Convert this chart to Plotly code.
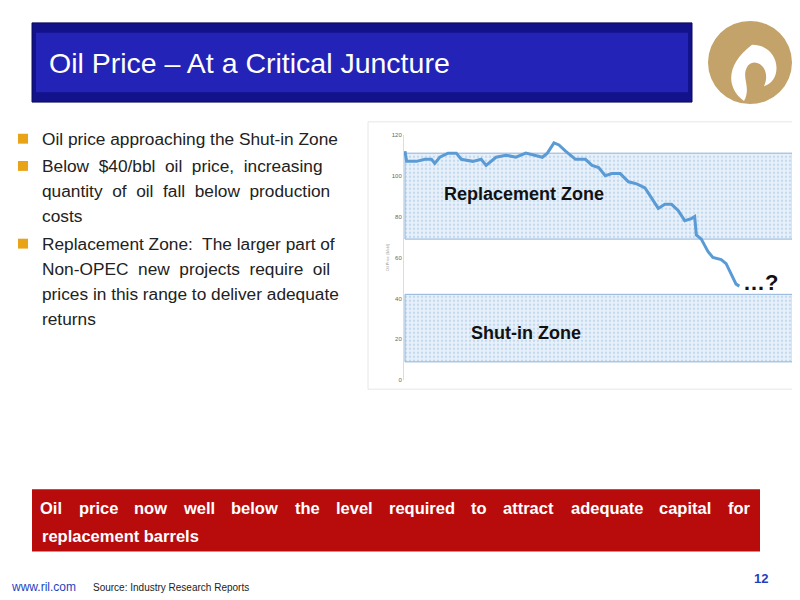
import plotly.graph_objects as go

# oil price series (time index, $/bbl)
t_idx = [0, 0.5, 3.5, 6, 8, 9, 10.5, 13, 15.5, 17, 20.5, 23, 24.5, 27.5, 30.5, 33.5, 36.5,
         39.5, 41.5, 43, 45, 46.5, 48.5, 51.5, 54.5, 56.5, 58.5, 60.5, 62.5, 65, 67.5, 70,
         72.5, 74.5, 76.5, 78.5, 80.5, 82.5, 84.5, 86.5, 87.5, 88, 89.5, 91.5, 93, 95.5, 97,
         98.5, 100, 101]
price = [112, 107, 107, 108, 108, 106, 109, 111, 111, 108, 107, 108, 105, 109, 110, 109, 111,
         110, 109, 111, 116, 115, 112, 108, 108, 105, 104, 100, 101, 101, 97, 96, 94, 89, 84,
         86, 86, 83, 78, 79, 80, 71, 69, 63, 60, 59, 57, 52, 47, 46]
zone_names = ["Replacement Zone", "Shut-in Zone"]
zone_low = [69, 9]
zone_high = [111, 42]
y_ticks = [0, 20, 40, 60, 80, 100, 120]
bullets = [
    ["Oil price approaching the Shut-in Zone"],
    ["Below  $40/bbl  oil  price,  increasing", "quantity  of  oil  fall  below  production", "costs"],
    ["Replacement Zone:  The larger part of", "Non-OPEC  new  projects  require  oil", "prices in this range to deliver adequate", "returns"],
]
banner_words = ["Oil", "price", "now", "well", "below", "the", "level", "required", "to",
                "attract", "adequate", "capital", "for"]

# rough bold Arial glyph widths (em) for justifying the banner line
GLYPH_EM = {'i': .278, 'l': .278, 't': .333, 'f': .333, 'r': .389, 'w': .778, 'm': .889,
            'O': .778, 'a': .556, 'c': .556, 'e': .556, 's': .556, 'v': .556}

# the page body has an 8px margin, so shift everything up-left by that
OFF = 8


def px(x):
    return (x - OFF) / 800


def py(y):
    return 1 - (y - OFF) / 600


def word_w(w, size):
    return sum(GLYPH_EM.get(c, .611) for c in w) * size


fig = go.Figure()
for name, lo, hi in zip(zone_names, zone_low, zone_high):
    fig.add_trace(go.Scatter(x=[0, 117, 117, 0, 0], y=[lo, lo, hi, hi, lo], mode='lines',
                             fill='toself', fillcolor='rgba(225,238,250,1)',
                             fillpattern=dict(shape='.', fgcolor='#9dbfe0', bgcolor='#e8f1fb', size=4, solidity=0.3),
                             line=dict(color='#8fb3d9', width=1), showlegend=False, hoverinfo='skip'))
fig.add_trace(go.Scatter(x=t_idx, y=price, mode='lines', line=dict(color='#5b9bd5', width=3),
                         showlegend=False))

fig.update_layout(
    width=800, height=600, margin=dict(l=0, r=0, t=0, b=0),
    paper_bgcolor='white', plot_bgcolor='rgba(0,0,0,0)',
    font=dict(family='Liberation Sans, Arial', color='#222'),
    xaxis=dict(domain=[px(404), px(793)], range=[-0.3, 117.2], showticklabels=False, showgrid=False,
               zeroline=False, showline=False),
    yaxis=dict(domain=[py(381), py(133)], range=[0, 120], tickvals=y_ticks, showgrid=False,
               zeroline=False, showline=True, linecolor='#ddd', linewidth=1,
               tickfont=dict(size=6, color='#666'), ticks='',
               title=dict(text='Oil Price ($/bbl)', font=dict(size=4, color='#999'), standoff=2)),
)

shapes = [
    # chart frame
    dict(type='rect', xref='paper', yref='paper', x0=px(368), x1=px(797), y0=py(390), y1=py(120),
         line=dict(color='#e6e6e6', width=1), fillcolor='white', layer='below'),
    # title banner
    dict(type='rect', xref='paper', yref='paper', x0=px(32), x1=px(692), y0=py(100), y1=py(20),
         line=dict(color='#0a0a5a', width=1), fillcolor='#12128a', layer='below'),
    dict(type='rect', xref='paper', yref='paper', x0=px(36), x1=px(688), y0=py(90), y1=py(30),
         line=dict(width=0), fillcolor='#2323b8', layer='below'),
    # logo
    dict(type='circle', xref='paper', yref='paper', x0=px(708), x1=px(792), y0=py(102), y1=py(18),
         line=dict(width=0), fillcolor='#c4a36a'),
    dict(type='path', xref='paper', yref='paper',
         path=f'M {px(744)} {py(99)} C {px(724)} {py(84)} {px(728)} {py(60)} {px(752)} {py(42)} '
              f'C {px(780)} {py(42)} {px(784)} {py(78)} {px(764)} {py(84)} '
              f'C {px(772)} {py(66)} {px(756)} {py(54)} {px(748)} {py(63)} '
              f'C {px(740)} {py(75)} {px(752)} {py(84)} {px(744)} {py(99)} Z',
         line=dict(width=0), fillcolor='white'),
    # bottom red box
    dict(type='rect', xref='paper', yref='paper', x0=px(32), x1=px(760), y0=py(554), y1=py(491),
         line=dict(width=0), fillcolor='#b80c0c', layer='below'),
]

ann = [
    dict(x=px(47), y=py(61), text='Oil Price – At a Critical Juncture', showarrow=False,
         xanchor='left', yanchor='middle', font=dict(size=28.5, color='white', family='Liberation Sans')),
    dict(x=11.2, y=91, xref='x', yref='y', text='<b>Replacement Zone</b>', showarrow=False,
         xanchor='left', font=dict(size=18, color='#111')),
    dict(x=19.3, y=23, xref='x', yref='y', text='<b>Shut-in Zone</b>', showarrow=False,
         xanchor='left', font=dict(size=18, color='#111')),
    dict(x=101.5, y=48, xref='x', yref='y', text='<b>…?</b>', showarrow=False,
         xanchor='left', font=dict(size=22, color='#111')),
    dict(x=px(40), y=py(538), text='<b>replacement barrels</b>', showarrow=False, xanchor='left',
         yanchor='middle', font=dict(size=16.5, color='white')),
    dict(x=px(9), y=py(590), text='www.ril.com', showarrow=False, xanchor='left', yanchor='middle',
         font=dict(size=12, color='#1f3fbf')),
    dict(x=px(91), y=py(590), text='Source: Industry Research Reports', showarrow=False, xanchor='left',
         yanchor='middle', font=dict(size=10, color='#222')),
    dict(x=px(770), y=py(581), text='<b>12</b>', showarrow=False, xanchor='right', yanchor='middle',
         font=dict(size=13, color='#1f3fbf')),
]

# justified first line of the red banner: spread words between x=40 and x=750
fs = 16.5
widths = [word_w(w, fs) for w in banner_words]
gap = (710 - sum(widths)) / (len(banner_words) - 1)
pos = 40
for w, ww in zip(banner_words, widths):
    ann.append(dict(x=px(pos + ww / 2), y=py(510), text=f'<b>{w}</b>', showarrow=False, xanchor='center',
                    yanchor='middle', font=dict(size=fs, color='white')))
    pos += ww + gap

yline = 137
for group in bullets:
    shapes.append(dict(type='rect', xref='paper', yref='paper', x0=px(18), x1=px(28),
                       y0=py(yline + 5), y1=py(yline - 5), line=dict(width=0), fillcolor='#e8a317'))
    for line in group:
        ann.append(dict(x=px(40), y=py(yline), text=line, showarrow=False, xanchor='left',
                        yanchor='middle', font=dict(size=17.3, color='#222')))
        yline += 25.5
    yline += 2
for a in ann:
    a.setdefault('xref', 'paper')
    a.setdefault('yref', 'paper')
fig.update_layout(shapes=shapes, annotations=ann)

fig.write_html("out.html")
